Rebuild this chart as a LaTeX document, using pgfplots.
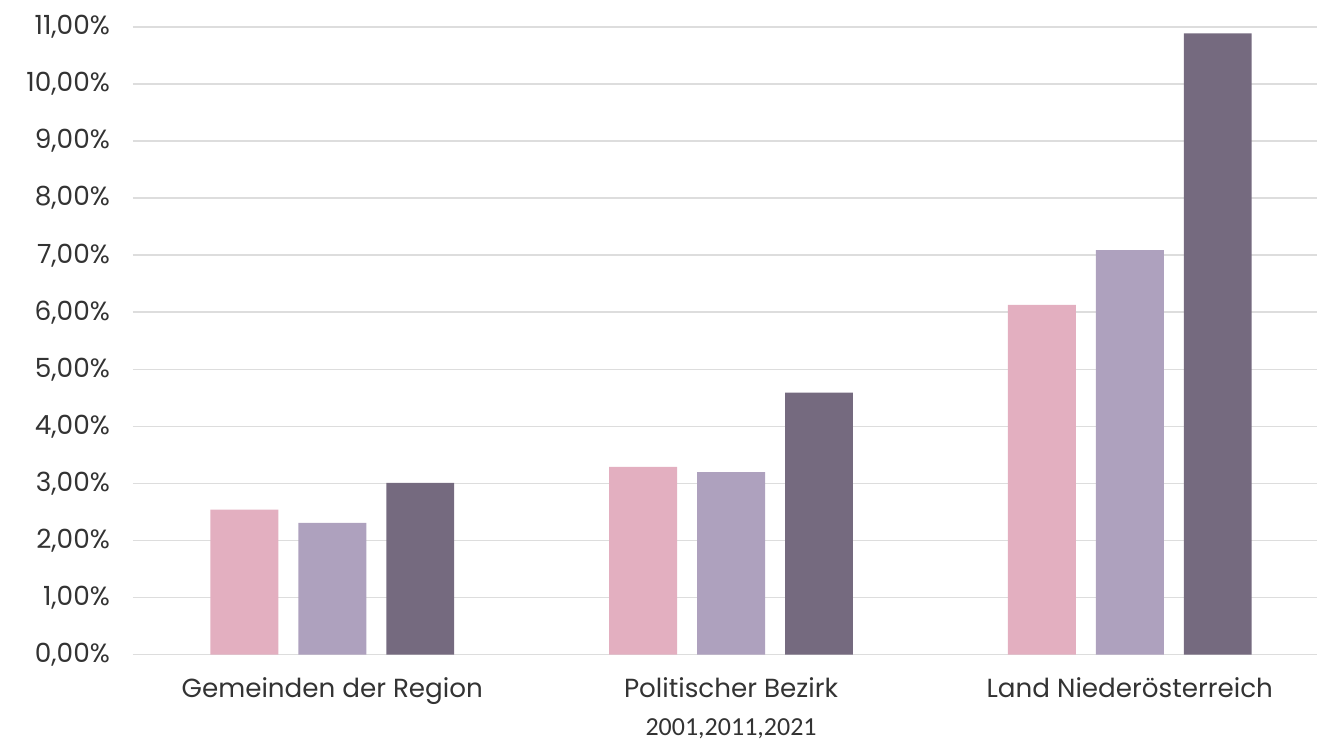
\documentclass[border=0pt]{standalone}
\usepackage{fontspec}
\setmainfont{Poppins}
\newfontfamily\yearfont{Carlito}
\usepackage{pgfplots}
\pgfplotsset{compat=1.18}

\definecolor{cPink}{HTML}{E3AFC0}
\definecolor{cLav}{HTML}{AEA1BE}
\definecolor{cDark}{HTML}{756A7F}
\definecolor{cGrid}{HTML}{DDDDDD}
\definecolor{cText}{HTML}{333333}

\begin{document}
\begin{tikzpicture}[x=0.5pt,y=0.5pt]
\begin{axis}[
  at={(0,0)}, anchor=south west,
  scale only axis,
  width=592.5pt, height=314pt,
  xmin=-0.5, xmax=2.47,
  ymin=0, ymax=11,
  ybar=10pt, bar width=34pt,
  axis line style={draw=none},
  major tick length=0pt,
  ymajorgrids, grid style={cGrid, line width=0.8pt},
  ytick={0,1,...,11},
  yticklabels={{0,00\%},{1,00\%},{2,00\%},{3,00\%},{4,00\%},{5,00\%},
               {6,00\%},{7,00\%},{8,00\%},{9,00\%},{10,00\%},{11,00\%}},
  yticklabel style={font=\fontsize{13.2}{15}\selectfont, text=cText, xshift=-8pt},
  xtick={0,1,2},
  xticklabels={Gemeinden der Region, Politischer Bezirk, Land Niederösterreich},
  xticklabel style={font=\fontsize{13.1}{15}\selectfont, text=cText, yshift=-8pt},
  clip=false,
]
\addplot[fill=cPink, draw=none] coordinates {(0,2.54) (1,3.29) (2,6.13)};
\addplot[fill=cLav,  draw=none] coordinates {(0,2.31) (1,3.20) (2,7.09)};
\addplot[fill=cDark, draw=none] coordinates {(0,3.01) (1,4.59) (2,10.89)};
\node[font=\yearfont\fontsize{13}{15}\selectfont, text=cText]
  at (axis cs:1,0) [yshift=-37pt] {2001,2011,2021};
\end{axis}
% page extent
\path[use as bounding box] (-133,-87) rectangle (1185,655);
\end{tikzpicture}
\end{document}
